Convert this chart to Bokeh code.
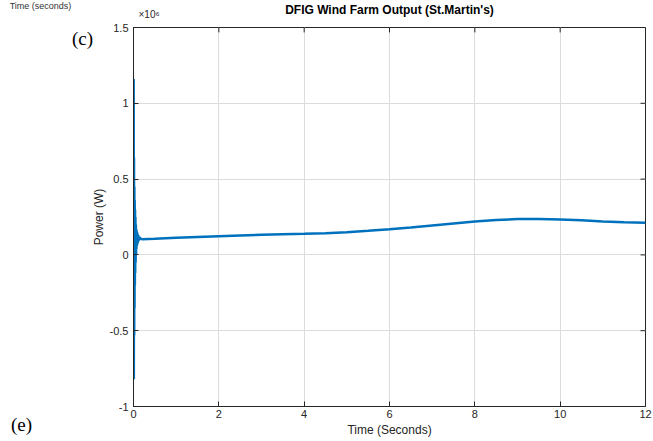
from bokeh.plotting import figure
from bokeh.models import LinearAxis, FixedTicker, Label, Range1d
from bokeh.embed import file_html
from bokeh.resources import INLINE

# ---- data (time in s, power in W) ----
time_s = [0.000, 0.004, 0.008, 0.012, 0.016, 0.020, 0.024, 0.028, 0.032, 0.036,
          0.040, 0.045, 0.050, 0.055, 0.060, 0.065, 0.070, 0.075, 0.080, 0.085,
          0.090, 0.095, 0.100, 0.110, 0.120, 0.130, 0.140, 0.150, 0.170, 0.200,
          0.5, 1.0, 1.5, 2.0, 2.5, 3.0, 3.5, 4.0, 4.5, 5.0, 5.5, 6.0, 6.5, 7.0,
          7.5, 8.0, 8.5, 9.0, 9.5, 10.0, 10.5, 11.0, 11.5, 12.0]
power_w = [0.0e6, 1.16e6, -0.82e6, 0.64e6, -0.53e6, 0.45e6, -0.35e6, 0.36e6, -0.20e6, 0.30e6,
           -0.12e6, 0.25e6, -0.05e6, 0.20e6, 0.00e6, 0.17e6, 0.04e6, 0.16e6, 0.06e6, 0.15e6,
           0.07e6, 0.14e6, 0.08e6, 0.13e6, 0.09e6, 0.12e6, 0.10e6, 0.115e6, 0.105e6, 0.104e6,
           0.106e6, 0.113e6, 0.118e6, 0.123e6, 0.128e6, 0.133e6, 0.136e6, 0.139e6, 0.143e6,
           0.150e6, 0.159e6, 0.169e6, 0.181e6, 0.194e6, 0.207e6, 0.220e6, 0.230e6, 0.236e6,
           0.237e6, 0.234e6, 0.228e6, 0.221e6, 0.216e6, 0.212e6]

x_ticks = [0, 2, 4, 6, 8, 10, 12]
y_ticks = [-1.0e6, -0.5e6, 0.0, 0.5e6, 1.0e6, 1.5e6]
y_tick_labels = ["-1", "-0.5", "0", "0.5", "1", "1.5"]

title_text = "DFIG Wind Farm Output (St.Martin's)"
x_label = "Time (Seconds)"
y_label = "Power (W)"

AX = "#262626"
FONT = "Liberation Sans"
X0, X1, Y0, Y1 = 0, 12, -1.0e6, 1.5e6

p = figure(width=653, height=441, output_backend="svg", toolbar_location=None,
           x_range=Range1d(X0, X1), y_range=Range1d(Y0, Y1),
           min_border_left=133, min_border_right=8, min_border_top=21, min_border_bottom=35,
           x_axis_location=None, y_axis_location=None)
p.background_fill_color = "white"
p.border_fill_color = "white"
p.outline_line_color = AX
p.outline_line_width = 1

p.title.text = title_text
p.title.align = "center"
p.title.text_font = FONT
p.title.text_font_size = "12px"
p.title.text_font_style = "bold"
p.title.text_color = "black"
p.title.standoff = 1


def style_axis(ax):
    ax.axis_line_color = AX
    ax.major_tick_line_color = AX
    ax.major_tick_in = 5
    ax.major_tick_out = 0
    ax.minor_tick_line_color = None
    ax.major_label_text_color = AX
    ax.major_label_text_font = FONT
    ax.major_label_text_font_size = "11px"
    ax.axis_label_text_font = FONT
    ax.axis_label_text_font_size = "12px"
    ax.axis_label_text_font_style = "normal"
    ax.axis_label_text_color = AX


xb = LinearAxis(ticker=FixedTicker(ticks=x_ticks), axis_label=x_label)
style_axis(xb)
xb.major_label_standoff = 3
xb.axis_label_standoff = 2
p.add_layout(xb, "below")
yl = LinearAxis(ticker=FixedTicker(ticks=y_ticks), axis_label=y_label)
style_axis(yl)
yl.major_label_standoff = 5
yl.axis_label_standoff = 1
yl.major_label_overrides = {t: s for t, s in zip(y_ticks, y_tick_labels)}
p.add_layout(yl, "left")

p.xgrid.ticker = FixedTicker(ticks=x_ticks)
p.ygrid.ticker = FixedTicker(ticks=y_ticks)
for g in (p.xgrid, p.ygrid):
    g.grid_line_color = "#dcdcdc"
    g.grid_line_width = 1

# inward tick marks on top and right edges (box on)
tick_dy = (Y1 - Y0) * 5 / 385
tick_dx = (X1 - X0) * 5 / 512
p.segment(x0=x_ticks, y0=[Y1] * len(x_ticks), x1=x_ticks, y1=[Y1 - tick_dy] * len(x_ticks),
          line_color=AX, line_width=1)
p.segment(x0=[X1] * len(y_ticks), y0=y_ticks, x1=[X1 - tick_dx] * len(y_ticks), y1=y_ticks,
          line_color=AX, line_width=1)

p.line(time_s, power_w, line_color="#0072BD", line_width=2.5)


def side_label(text, x, y, size, side, font=FONT, color=AX, align="center", lh=1.2):
    p.add_layout(Label(x=x, y=y, x_units="canvas", y_units="canvas", text=text,
                       text_font=font, text_font_size=size, text_color=color,
                       text_align=align, text_baseline="middle",
                       text_line_height=lh), side)


side_label("(c)", 82, 38, "19px", "left", font="Liberation Serif", color="black")
side_label("(e)", 21, 424, "19px", "left", font="Liberation Serif", color="black")
side_label("×10⁶", 138, 14, "10px", "left", align="left")
side_label("Time (seconds)", 40, 5, "9px", "above", color="#333333", lh=0.1)

open("out.html", "w").write(file_html(p, INLINE))
